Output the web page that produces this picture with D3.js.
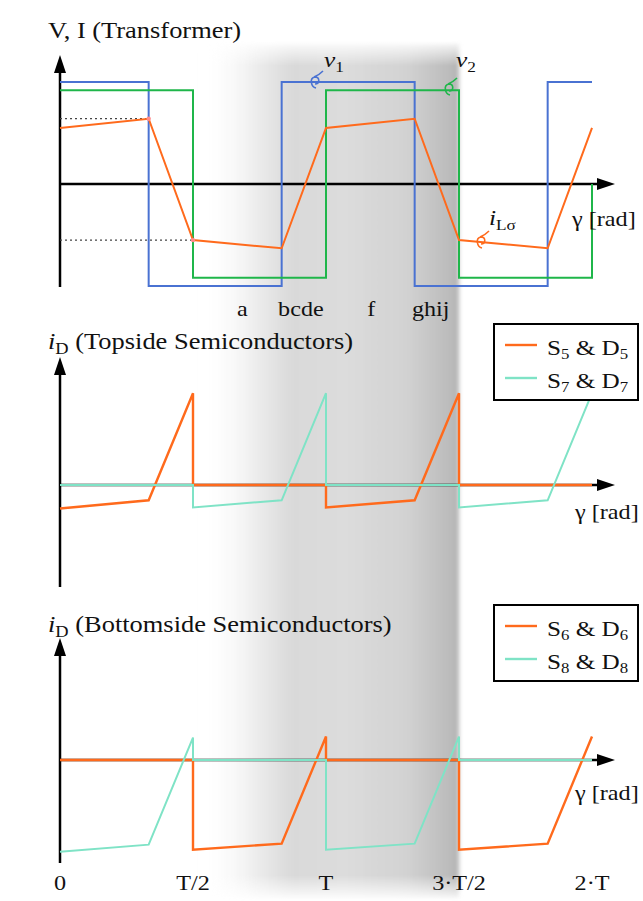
<!DOCTYPE html>
<html>
<head>
<meta charset="utf-8">
<script src="https://cdn.jsdelivr.net/npm/d3@7"></script>
<style>
  body { margin: 0; background: #fff; }
  text { font-family: "Liberation Serif", "Times New Roman", serif; fill: #111; }
</style>
</head>
<body>
<svg id="chart" width="643" height="901"></svg>
<script>
// Time axis in units of the switching period T
const tickValues = [0, 0.5, 1, 1.5, 2];
const tickLabels = ["0", "T/2", "T", "3·T/2", "2·T"];

// Transformer quantities (normalised), [t, value]
const v1 = [[0,1],[1/3,1],[1/3,-1],[5/6,-1],[5/6,1],[4/3,1],[4/3,-1],[11/6,-1],[11/6,1],[2,1]];
const v2 = [[0,0.92],[0.5,0.92],[0.5,-0.92],[1,-0.92],[1,0.92],[1.5,0.92],[1.5,-0.92],[2,-0.92],[2,0]];
const iL = [[0,0.55],[1/3,0.64],[0.5,-0.55],[5/6,-0.63],[1,0.55],[4/3,0.64],[1.5,-0.55],[11/6,-0.63],[2,0.55]];

// Topside semiconductor currents
const s5 = [[0,-0.23],[1/3,-0.15],[0.5,0.90],[0.5,0],[1,0],[1,-0.22],[4/3,-0.15],[1.5,0.90],[1.5,0],[2,0]];
const s7 = [[0,0],[0.5,0],[0.5,-0.22],[5/6,-0.15],[1,0.90],[1,0],[1.5,0],[1.5,-0.22],[11/6,-0.15],[2,0.90]];

// Bottomside semiconductor currents
const s6 = [[0,0],[0.5,0],[0.5,-0.88],[5/6,-0.82],[1,0.23],[1,0],[1.5,0],[1.5,-0.88],[11/6,-0.82],[2,0.23]];
const s8 = [[0,-0.90],[1/3,-0.83],[0.5,0.22],[0.5,0],[1,0],[1,-0.88],[4/3,-0.82],[1.5,0.23],[1.5,0],[2,0]];

// Interval markers along the first period
const intervalLabels = [["a",0.665],["bcde",0.82],["f",1.155],["ghij",1.323]];

const colors = { v1: "#4a72d2", v2: "#1fb64a", iL: "#ff6a1c", s5: "#ff6a1c", s7: "#7fe3c6", s6: "#ff6a1c", s8: "#7fe3c6" };

const svg = d3.select("#chart");
const x = d3.scaleLinear().domain([0, 2]).range([60, 592]);
const axisX0 = 60, axisX1 = 615;

// Panel vertical layout: zero line, axis extent
const panels = [
  { zero: 184, top: 55, bottom: 287 },
  { zero: 485, top: 357, bottom: 587 },
  { zero: 760, top: 638, bottom: 863 }
];
panels.forEach(p => { p.y = d3.scaleLinear().domain([-1, 1]).range([p.zero + 102, p.zero - 102]); });

// Grey highlighted region behind the traces
const defs = svg.append("defs");
const grad = defs.append("linearGradient").attr("id", "shade").attr("x1", 0).attr("x2", 1).attr("y1", 0).attr("y2", 0);
[[0, "#ffffff", 0], [0.22, "#ececec", 1], [0.36, "#d9d9d9", 1], [0.56, "#dcdcdc", 1], [0.8, "#d2d2d2", 1], [0.96, "#bcbcbc", 1], [1, "#b4b4b4", 1]]
  .forEach(([o, c, a]) => grad.append("stop").attr("offset", o).attr("stop-color", c).attr("stop-opacity", a));
const vgrad = defs.append("linearGradient").attr("id", "shadeFade").attr("x1", 0).attr("x2", 0).attr("y1", 0).attr("y2", 1);
[[0, 0], [0.03, 1], [0.97, 1], [1, 0]].forEach(([o, a]) => vgrad.append("stop").attr("offset", o).attr("stop-color", "#fff").attr("stop-opacity", a));
defs.append("mask").attr("id", "shadeMask").append("rect")
  .attr("x", 0).attr("y", 40).attr("width", 643).attr("height", 861).attr("fill", "url(#shadeFade)");
defs.append("filter").attr("id", "soft").append("feGaussianBlur").attr("stdDeviation", 2);
svg.append("rect")
  .attr("x", 200).attr("y", 42).attr("width", x(1.5) - 200).attr("height", 858)
  .attr("fill", "url(#shade)").attr("mask", "url(#shadeMask)").attr("filter", "url(#soft)");

// Helper for horizontally stretched serif text
function label(g, str, px, py, size, sx, anchor) {
  return g.append("text").attr("transform", `translate(${px},${py}) scale(${sx},1)`)
    .attr("font-size", size).attr("text-anchor", anchor || "start").text(str);
}

const line = y => d3.line().x(d => x(d[0])).y(d => y(d[1]));

function axes(p) {
  const g = svg.append("g");
  g.append("line").attr("x1", axisX0).attr("x2", axisX0).attr("y1", p.bottom).attr("y2", p.top + 14)
    .attr("stroke", "#000").attr("stroke-width", 2.5);
  g.append("path").attr("d", `M${axisX0},${p.top} L${axisX0 - 6},${p.top + 18} L${axisX0 + 6},${p.top + 18} Z`).attr("fill", "#000");
  g.append("line").attr("x1", axisX0).attr("x2", axisX1 - 14).attr("y1", p.zero).attr("y2", p.zero)
    .attr("stroke", "#000").attr("stroke-width", 2.5);
  g.append("path").attr("d", `M${axisX1},${p.zero} L${axisX1 - 18},${p.zero - 6} L${axisX1 - 18},${p.zero + 6} Z`).attr("fill", "#000");
}

function trace(p, data, color, w) {
  svg.append("path").datum(data).attr("d", line(p.y)).attr("fill", "none")
    .attr("stroke", color).attr("stroke-width", w || 2).attr("stroke-linejoin", "miter");
}

// ---- Panel 1: transformer voltages and current
const P1 = panels[0];
axes(P1);
trace(P1, v1, colors.v1);
trace(P1, v2, colors.v2);
// dotted guides from the current peaks back to the vertical axis
[iL[1], iL[2]].forEach(d => {
  svg.append("line").attr("x1", axisX0).attr("x2", x(d[0])).attr("y1", P1.y(d[1])).attr("y2", P1.y(d[1]))
    .attr("stroke", "#444").attr("stroke-width", 1.2).attr("stroke-dasharray", "2,3");
});
trace(P1, iL, colors.iL);
[iL[1], iL[2]].forEach(d => {
  svg.append("circle").attr("cx", x(d[0])).attr("cy", P1.y(d[1])).attr("r", 2.2).attr("fill", "#ff8a8a");
});

// ---- Panel 2: topside semiconductors
const P2 = panels[1];
axes(P2);
trace(P2, s5, colors.s5, 2.4);
trace(P2, s7, colors.s7, 2);

// ---- Panel 3: bottomside semiconductors
const P3 = panels[2];
axes(P3);
trace(P3, s6, colors.s6, 2.4);
trace(P3, s8, colors.s8, 2);

// ---- Titles
const T = svg.append("g");
label(T, "V, I (Transformer)", 48, 38, 23, 1.15);
function idTitle(py, rest) {
  const t = T.append("text").attr("transform", `translate(48,${py}) scale(1.15,1)`).attr("font-size", 23);
  t.append("tspan").attr("font-style", "italic").text("i");
  t.append("tspan").attr("font-size", 16).attr("dy", 5).text("D");
  t.append("tspan").attr("dy", -5).text(" " + rest);
}
idTitle(349, "(Topside Semiconductors)");
idTitle(632, "(Bottomside Semiconductors)");

// axis names
[[572, 226], [575, 519], [575, 800]].forEach(([px, py]) => label(T, "γ [rad]", px, py, 22, 1.1));

// interval letters
intervalLabels.forEach(([s, t]) => label(T, s, x(t), 316, 21, 1.15));

// tick labels
tickValues.forEach((t, i) => label(T, tickLabels[i], x(t), 890, 22, 1.1, "middle"));

// ---- Curve annotations with small hook marks
function hook(px, py, color) {
  svg.append("path")
    .attr("d", `M${px + 2},${py} c-5,-1 -7,-10 -1,-11 c5,0 5,7 0,7 M${px},${py - 11} c3,-1 6,-3 9,-6`)
    .attr("fill", "none").attr("stroke", color).attr("stroke-width", 1.6);
}
hook(314, 88, colors.v1);
hook(448, 95, colors.v2);
hook(480, 248, colors.iL);
function subLabel(px, py, main, sub) {
  const t = T.append("text").attr("transform", `translate(${px},${py}) scale(1.15,1)`).attr("font-size", 22);
  t.append("tspan").attr("font-style", "italic").text(main);
  t.append("tspan").attr("font-size", 15).attr("dy", 5).text(sub);
}
subLabel(324, 67, "v", "1");
subLabel(456, 67, "v", "2");
subLabel(489, 225, "i", "Lσ");

// ---- Legends
function legend(top, entries) {
  const g = svg.append("g");
  g.append("rect").attr("x", 494).attr("y", top).attr("width", 144).attr("height", 76)
    .attr("fill", "#fff").attr("stroke", "#000").attr("stroke-width", 2);
  entries.forEach((e, i) => {
    const ly = top + 21 + i * 33;
    g.append("line").attr("x1", 505).attr("x2", 537).attr("y1", ly).attr("y2", ly)
      .attr("stroke", e.color).attr("stroke-width", 2.4);
    const t = g.append("text").attr("transform", `translate(547,${ly + 10}) scale(1.2,1)`).attr("font-size", 21);
    t.append("tspan").text("S");
    t.append("tspan").attr("font-size", 14).attr("dy", 4).text(e.n1);
    t.append("tspan").attr("dy", -4).text(" & D");
    t.append("tspan").attr("font-size", 14).attr("dy", 4).text(e.n1);
  });
}
legend(324, [{ color: colors.s5, n1: "5" }, { color: colors.s7, n1: "7" }]);
legend(605, [{ color: colors.s6, n1: "6" }, { color: colors.s8, n1: "8" }]);
</script>
</body>
</html>
